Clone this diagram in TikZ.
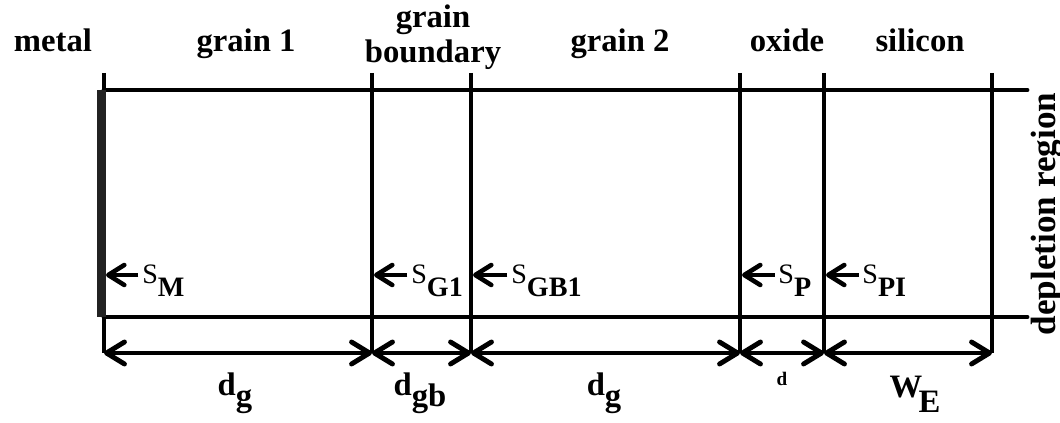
\documentclass[tikz,border=0pt]{standalone}
\usepackage{fontspec}
\setmainfont{Liberation Serif}
\usetikzlibrary{arrows.meta}
\definecolor{metalgray}{RGB}{34,34,34}

\tikzset{
    wall/.style={line width=2.8pt},
    dimarrow/.style={line width=2.8pt, {Straight Barb[length=0.36cm, width=0.44cm, round]}-{Straight Barb[length=0.36cm, width=0.44cm, round]}},
    sarrow/.style={line width=2.6pt, -{Straight Barb[length=0.32cm, width=0.4cm, round]}},
    biglabel/.style={inner sep=0pt, font=\fontsize{18.6}{20.4}\selectfont\bfseries},
    smalllabel/.style={inner sep=0pt, font=\fontsize{16}{18}\selectfont},
    tinylabel/.style={inner sep=0pt, font=\fontsize{10.9}{13}\selectfont\bfseries}
}

\begin{document}
\begin{tikzpicture}[x=0.02cm, y=-0.02cm]
    \useasboundingbox (0,0) rectangle (1060,422);

    % Interfaces
    \foreach \x/\n in {104/m, 372/ga, 471/gb, 740/ox, 824/si, 992/de} {
        \coordinate (\n-top) at (\x,73);
        \coordinate (\n-dim) at (\x,353);
        \coordinate (\n-s) at (\x+2,275);
        \draw[wall] (\n-top) -- (\n-dim);
    }

    % Layer stack
    \draw[wall, line cap=round] (104,90) -- (1027,90);
    \draw[wall, line cap=round] (104,317) -- (1027,317);
    \fill[metalgray] (97,90) rectangle (106,317);

    % Region names
    \node[biglabel, anchor=base] (metal) at (53,52) {metal};
    \node[biglabel, anchor=base] (grain1) at (246,52) {grain 1};
    \node[biglabel, anchor=base, align=center] (gbound) at (433,63) {grain\\boundary};
    \node[biglabel, anchor=base] (grain2) at (620,52) {grain 2};
    \node[biglabel, anchor=base] (oxide) at (787,52) {oxide};
    \node[biglabel, anchor=base] (silicon) at (920,52) {silicon};
    \node[biglabel, font=\fontsize{20}{22}\selectfont\bfseries, anchor=base, rotate=90] (depl) at (1055,214) {depletion region};

    % Recombination velocities
    \node[smalllabel, anchor=base west] (sm) at (142,283) {S\textbf{\raisebox{-7.4pt}{M}}};
    \node[smalllabel, anchor=base west] (sg1) at (411,283) {S\textbf{\raisebox{-7.4pt}{G1}}};
    \node[smalllabel, anchor=base west] (sgb1) at (511,283) {S\textbf{\raisebox{-7.4pt}{GB1}}};
    \node[smalllabel, anchor=base west] (sp) at (778,283) {S\textbf{\raisebox{-7.4pt}{P}}};
    \node[smalllabel, anchor=base west] (spi) at (862,283) {S\textbf{\raisebox{-7.4pt}{PI}}};
    \draw[sarrow] ([xshift=-2pt]sm.west |- m-s) -- (m-s);
    \draw[sarrow] ([xshift=-2pt]sg1.west |- ga-s) -- (ga-s);
    \draw[sarrow] ([xshift=-2pt]sgb1.west |- gb-s) -- (gb-s);
    \draw[sarrow] ([xshift=-2pt]sp.west |- ox-s) -- (ox-s);
    \draw[sarrow] ([xshift=-2pt]spi.west |- si-s) -- (si-s);

    % Thicknesses
    \draw[dimarrow] (m-dim) -- (ga-dim);
    \draw[dimarrow] (ga-dim) -- (gb-dim);
    \draw[dimarrow] (gb-dim) -- (ox-dim);
    \draw[dimarrow] (ox-dim) -- (si-dim);
    \draw[dimarrow] (si-dim) -- (de-dim);
    \node[biglabel, anchor=base] (dg1) at (235,395) {d\raisebox{-6.8pt}{g}};
    \node[biglabel, anchor=base] (dgb) at (420,395) {d\raisebox{-6.8pt}{gb}};
    \node[biglabel, anchor=base] (dg2) at (604,395) {d\raisebox{-6.8pt}{g}};
    \node[tinylabel, anchor=base] (dox) at (782,385) {d};
    \node[biglabel, anchor=base] (we) at (915,397) {W\kern-2pt\raisebox{-9pt}{E}};
\end{tikzpicture}
\end{document}
